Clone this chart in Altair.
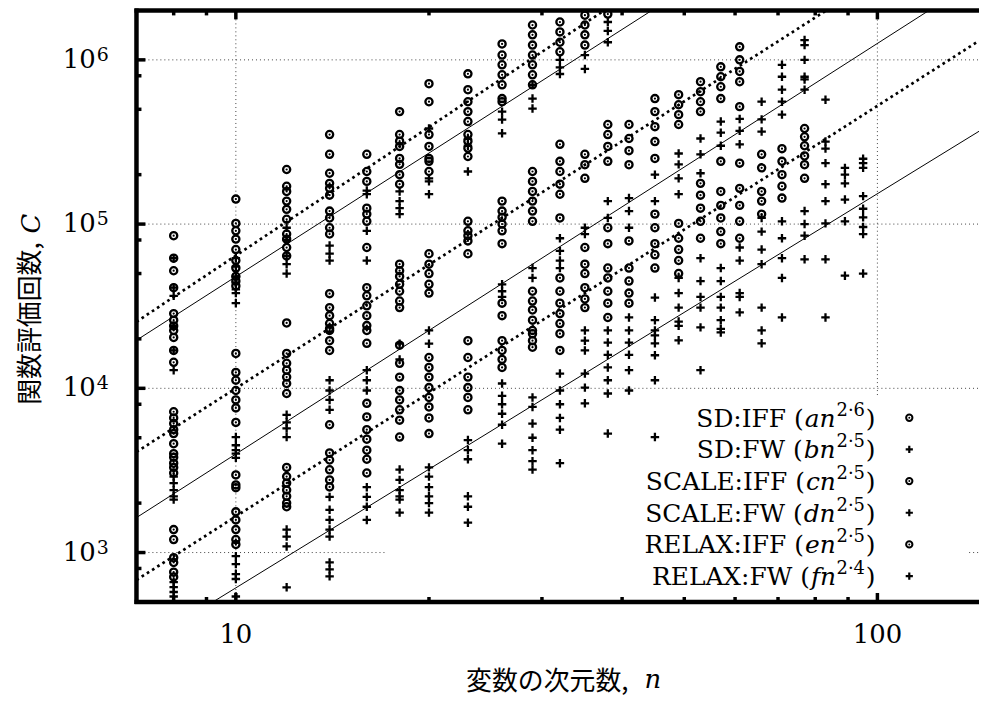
import altair as alt
import pandas as pd

# ---------------- data ----------------
SD_IFF = {
    8: [85000, 62000, 52000, 41000, 28500, 26000, 24000, 22500, 20400, 17000, 14400],
    10: [142000, 101000, 91000, 81000, 70000, 60000, 54000, 48000, 45000, 42000],
    12: [215000, 170000, 158000, 138000, 123000, 107000, 87000, 81000, 72000, 64000],
    14: [351000, 266000, 204000, 177000, 165000, 150000, 120000, 109000, 95000, 87000],
    16: [266000, 209000, 182000, 125000, 115000, 104000, 72000],
    18: [484000, 351000, 320000, 297000, 251000, 231000, 200000, 175000],
    20: [716000, 556000, 351000, 297000, 251000, 241000, 209000],
    23: [822000, 658000, 556000, 484000, 421000, 351000, 320000, 290000, 258000],
    26: [1250000, 1070000, 933000, 811000, 705000, 581000, 556000],
    29: [1630000, 1420000, 1230000, 1070000, 933000, 811000, 705000],
    32: [1700000, 1480000, 1280000, 1120000],
    35: [1870000, 1630000, 1420000, 1230000],
    38: [1900000],
}
SD_FW = {
    8: [62000, 41000, 36600, 24000, 17000, 12900],
    10: [62000, 55000, 48000, 44000, 40000, 38000, 33000],
    12: [95000, 80000, 64000, 57000, 50000],
    14: [74000, 66000, 60000],
    16: [160000, 152000, 91000, 60000],
    18: [158000, 138000, 125000, 115000],
    20: [382000, 190000, 182000, 152000],
    23: [330000, 300000, 209000],
    26: [484000, 433000, 357000],
    29: [705000, 581000, 505000],
    32: [1000000, 900000, 820000],
    35: [1070000, 880000],
    38: [1700000, 1500000, 1280000],
}
SCALE_IFF = {
    8: [7200, 6600, 6100, 5600, 5300, 4600, 4000, 3800, 3500, 3300, 3050],
    10: [16300, 12500, 11200, 9700, 8500, 7600, 6200],
    12: [25000, 16300, 14200, 12900, 11700, 10700, 9300],
    14: [37700, 31000, 27700, 24800, 23100, 22500, 19500, 17000],
    16: [41000, 36600, 31800, 27700, 24100, 22500, 18800],
    18: [57000, 52000, 48000, 43000, 39000, 34000, 31000],
    20: [66000, 57000, 50000, 43000, 38000],
    23: [104000, 91000, 85000, 79000, 66000],
    26: [138000, 120000, 110000, 100000, 91000, 76000],
    29: [209000, 182000, 158000, 138000, 120000, 104000],
    32: [306000, 241000, 209000, 175000, 152000, 109000],
    35: [266000, 230000, 190000],
    38: [404000, 351000, 297000, 241000],
    41: [404000, 332000, 280000, 230000],
    45: [581000, 484000, 392000, 318000, 251000],
    49: [614000, 533000, 464000, 404000],
    53: [736000, 640000, 556000, 484000],
    57: [907000, 789000, 686000, 581000],
    61: [1200000, 1000000, 850000, 736000, 519000],
}
SCALE_FW = {
    8: [2900, 2650, 2400, 2200, 2100],
    10: [5050, 4500, 4200, 4000, 3770],
    12: [6900, 6200, 5700, 5050],
    14: [11200, 9700, 8500, 7400],
    16: [12900, 11200, 9700],
    18: [18700, 15000],
    20: [22500, 18700],
    26: [43000, 39000, 36000],
    29: [54000, 47000],
    32: [82000, 68600, 60000, 54000],
    35: [95000, 87000],
    38: [138000, 109000],
    41: [144000, 120000, 95000],
    45: [200000, 138000],
    49: [269000, 231000, 190000, 152000],
    53: [332000, 266000, 204000],
    57: [421000, 360000, 300000],
    61: [437000, 370000, 306000],
    66: [556000, 434000, 366000],
    71: [933000, 789000, 658000, 556000, 464000],
    77: [1320000, 1230000, 1000000, 789000, 760000, 658000],
    83: [572000],
}
RELAX_IFF = {
    8: [1380, 1200, 930, 870, 760, 710],
    10: [2970, 2580, 2480, 1770, 1580, 1380, 1200, 1120],
    12: [3300, 2900, 2650, 2400, 2200, 2000, 1900],
    14: [6000, 4040, 3660, 3190, 2770, 2510],
    16: [8100, 6700, 5600, 4900, 4200, 3700, 3050],
    18: [18300, 14200, 11700, 9700, 8500, 7400, 6400, 5050],
    20: [15400, 13400, 11700, 10100, 8800, 7700, 6600, 5300],
    23: [19500, 15400, 11700, 10100, 8800, 7400],
    26: [33000, 27700, 19500, 17000, 15000, 13400],
    29: [39000, 34000, 30000, 26000, 22500, 21500, 19500, 17800],
    32: [47000, 39000, 33000, 28500, 24800, 21500, 17000],
    35: [72000, 57000, 50000, 41000, 35000, 31000],
    38: [95000, 76000, 54000, 47000, 39000, 33000, 27000],
    41: [79000, 54000, 45000, 38000, 33000],
    45: [115000, 95000, 76000, 65000, 54000],
    49: [101000, 82000, 70000, 60000, 50000],
    53: [177000, 150000, 125000, 104000, 82000],
    57: [241000, 158000, 130000, 109000, 90000, 76000],
    61: [235000, 165000, 130000, 104000, 82000],
    66: [266000, 220000, 158000, 138000, 115000],
    71: [288000, 241000, 200000, 170000, 144000],
    77: [382000, 340000, 300000, 260000, 230000, 190000],
}
RELAX_FW = {
    8: [660, 615, 575, 540, 505],
    10: [950, 850, 740, 690, 540],
    12: [1380, 1250, 1090, 614],
    14: [2180, 1820, 1580, 1380, 1250, 870, 790, 716],
    16: [2500, 2180, 1900, 1580],
    18: [3200, 2770, 2400, 2200, 2100, 1750],
    20: [3300, 2900, 2500, 2200, 2000, 1750],
    23: [4840, 4200, 3700, 2200, 1900, 1520],
    26: [10700, 9000, 8000, 7000, 6000, 4600],
    29: [8800, 7700, 6100, 5000, 4200, 3600, 3200],
    32: [12300, 9700, 8000, 6600, 5600, 3500],
    35: [22500, 19500, 17000, 12300, 10100, 8100],
    38: [22500, 19000, 16000, 13400, 11200, 9300, 5300],
    41: [27000, 22500, 19000, 16000, 12900, 9700],
    45: [35700, 26000, 22500, 21000, 18800, 15900, 11200, 5050],
    49: [47000, 38000, 31000, 25500, 24000, 19600],
    53: [62000, 45000, 36000, 31000, 23500, 12900],
    57: [54000, 45000, 36000, 31000, 26000, 23000, 21900],
    61: [72000, 60000, 38000, 36000, 29000],
    66: [109000, 90000, 70000, 57000, 31000, 22500, 18800],
    71: [104000, 82000, 62000, 47000, 27000],
    77: [120000, 100000, 85000, 61000],
    83: [318000, 288000, 235000, 175000, 138000, 101000, 61000, 27000],
    89: [220000, 200000, 177000, 141000, 104000, 48500],
    95: [250000, 235000, 220000, 148000, 124000, 110000, 96000, 87000, 50000],
}

SERIES = ["SD:IFF", "SD:FW", "SCALE:IFF", "SCALE:FW", "RELAX:IFF", "RELAX:FW"]
KIND = ["IFF", "FW", "IFF", "FW", "IFF", "FW"]
SERIES_DATA = [SD_IFF, SD_FW, SCALE_IFF, SCALE_FW, RELAX_IFF, RELAX_FW]
FIT_LOG10_COEF = [2.208, 2.18, 1.50, 1.10, 0.72, 0.385]
FIT_POWER = [2.6, 2.5, 2.5, 2.5, 2.5, 2.4]
FIT_LETTER = ["a", "b", "c", "d", "e", "f"]
FIT_EXP_TEXT = ["2·6", "2·5", "2·5", "2·5", "2·5", "2·4"]

X_DOMAIN = [7, 144]
Y_DOMAIN = [500, 2e6]
X_MAJOR = [10, 100]
X_MAJOR_LABELS = ["10", "100"]
X_MINOR = [8, 9, 20, 30, 40, 50, 60, 70, 80, 90]
Y_MAJOR = [1e3, 1e4, 1e5, 1e6]
Y_MAJOR_EXP = ["3", "4", "5", "6"]
Y_MINOR = [800, 2000, 5000, 8000, 20000, 50000, 80000, 200000, 500000, 800000]
# area hidden by the opaque key box (grid lines only)
KEY_BOX_N = [17.2, 139]
KEY_BOX_C_TOP = 9100

# ---------------- layout ----------------
W, H = 846, 594
SERIF = "DejaVu Serif"
SERIF_IT = "DejaVu Serif"
CJK = "Noto Sans CJK JP"

xs = alt.Scale(type="log", domain=X_DOMAIN, nice=False)
ys = alt.Scale(type="log", domain=Y_DOMAIN, nice=False)


def X(f):
    return alt.X(f, scale=xs, axis=None)


def Y(f):
    return alt.Y(f, scale=ys, axis=None)


rows = []
for s, k, d in zip(SERIES, KIND, SERIES_DATA):
    for n, vals in d.items():
        for v in vals:
            rows.append({"n": n, "C": v, "series": s, "kind": k})
pts = pd.DataFrame(rows)

fit_rows = []
for s, k, lc, p in zip(SERIES, KIND, FIT_LOG10_COEF, FIT_POWER):
    for n in X_DOMAIN:
        fit_rows.append({"series": s, "kind": k, "n": n, "C": (10 ** lc) * n ** p})
fits = pd.DataFrame(fit_rows)

# grid segments
hgrid = []
for c in Y_MAJOR:
    if c == 1e3:
        hgrid.append({"C": c, "n0": X_DOMAIN[0], "n1": KEY_BOX_N[0]})
        hgrid.append({"C": c, "n0": KEY_BOX_N[1], "n1": X_DOMAIN[1]})
    else:
        hgrid.append({"C": c, "n0": X_DOMAIN[0], "n1": X_DOMAIN[1]})
vgrid = []
for n in X_MAJOR:
    lo = KEY_BOX_C_TOP if n > KEY_BOX_N[0] and n < KEY_BOX_N[1] else Y_DOMAIN[0]
    vgrid.append({"n": n, "C0": lo, "C1": Y_DOMAIN[1]})

GRID_STYLE = dict(color="#444444", strokeWidth=1, strokeDash=[1, 3])
layers = []
layers.append(alt.Chart(pd.DataFrame(hgrid)).mark_rule(**GRID_STYLE).encode(
    x=X("n0:Q"), x2="n1:Q", y=Y("C:Q")))
layers.append(alt.Chart(pd.DataFrame(vgrid)).mark_rule(**GRID_STYLE).encode(
    x=X("n:Q"), y=Y("C0:Q"), y2="C1:Q"))

# fitted lines
layers.append(alt.Chart(fits[fits.kind == "IFF"]).mark_line(
    clip=True, color="black", strokeWidth=2.7, strokeDash=[2.7, 3.5]).encode(
    x=X("n:Q"), y=Y("C:Q"), detail="series:N"))
layers.append(alt.Chart(fits[fits.kind == "FW"]).mark_line(
    clip=True, color="black", strokeWidth=1).encode(
    x=X("n:Q"), y=Y("C:Q"), detail="series:N"))

PLUS = "M-1,0L1,0M0,-1L0,1"
iff = pts[pts.kind == "IFF"]
fw = pts[pts.kind == "FW"]
layers.append(alt.Chart(iff).mark_point(
    shape="circle", filled=False, size=52, strokeWidth=2.3, color="black", opacity=1, clip=True
).encode(x=X("n:Q"), y=Y("C:Q")))
layers.append(alt.Chart(iff).mark_point(
    shape="circle", filled=True, size=5, color="black", opacity=1, clip=True
).encode(x=X("n:Q"), y=Y("C:Q")))
layers.append(alt.Chart(fw).mark_point(
    shape=PLUS, filled=False, size=72, strokeWidth=2.3, color="black", opacity=1, clip=True
).encode(x=X("n:Q"), y=Y("C:Q")))

# frame
one = pd.DataFrame({"k": [0]})
FRAME = dict(color="black", strokeWidth=4.5)
layers.append(alt.Chart(one).mark_rule(**FRAME).encode(x=alt.value(-2), x2=alt.value(W + 6), y=alt.value(0)))
layers.append(alt.Chart(one).mark_rule(**FRAME).encode(x=alt.value(-2), x2=alt.value(W + 6), y=alt.value(H)))
layers.append(alt.Chart(one).mark_rule(**FRAME).encode(x=alt.value(0), y=alt.value(-2), y2=alt.value(H + 2)))

# inward ticks
TICK = dict(color="black", strokeWidth=3.5)
xmaj = pd.DataFrame({"n": X_MAJOR, "label": X_MAJOR_LABELS})
xmin = pd.DataFrame({"n": X_MINOR})
ymaj = pd.DataFrame({"C": Y_MAJOR, "exp": Y_MAJOR_EXP})
ymin = pd.DataFrame({"C": Y_MINOR})
layers.append(alt.Chart(xmaj).mark_rule(**TICK).encode(x=X("n:Q"), y=alt.value(0), y2=alt.value(9)))
layers.append(alt.Chart(xmaj).mark_rule(**TICK).encode(x=X("n:Q"), y=alt.value(H), y2=alt.value(H - 9)))
layers.append(alt.Chart(xmin).mark_rule(**TICK).encode(x=X("n:Q"), y=alt.value(0), y2=alt.value(5)))
layers.append(alt.Chart(xmin).mark_rule(**TICK).encode(x=X("n:Q"), y=alt.value(H), y2=alt.value(H - 5)))
layers.append(alt.Chart(ymaj).mark_rule(**TICK).encode(y=Y("C:Q"), x=alt.value(0), x2=alt.value(9)))
layers.append(alt.Chart(ymin).mark_rule(**TICK).encode(y=Y("C:Q"), x=alt.value(0), x2=alt.value(5)))

# tick labels
layers.append(alt.Chart(xmaj).mark_text(
    font=SERIF, fontSize=26, align="center", baseline="middle", color="black").encode(
    x=X("n:Q"), y=alt.value(H + 33), text="label:N"))
layers.append(alt.Chart(ymaj).mark_text(
    font=SERIF, fontSize=26, align="right", baseline="middle", color="black", text="10").encode(
    y=Y("C:Q"), x=alt.value(-41)))
layers.append(alt.Chart(ymaj).mark_text(
    font=SERIF, fontSize=19, align="left", baseline="alphabetic", dy=1, color="black").encode(
    y=Y("C:Q"), x=alt.value(-40), text="exp:N"))

# axis titles
layers.append(alt.Chart(one).mark_text(
    font=CJK, fontSize=26, align="left", baseline="middle", angle=270, color="black",
    text="関数評価回数,").encode(x=alt.value(-106), y=alt.value(396)))
layers.append(alt.Chart(one).mark_text(
    font=SERIF_IT, fontSize=26, fontStyle="italic", align="left", baseline="middle", angle=270,
    color="black", text="C").encode(x=alt.value(-105), y=alt.value(224)))
layers.append(alt.Chart(one).mark_text(
    font=CJK, fontSize=26, align="left", baseline="middle", color="black",
    text="変数の次元数,").encode(x=alt.value(331), y=alt.value(674)))
layers.append(alt.Chart(one).mark_text(
    font=SERIF_IT, fontSize=26, fontStyle="italic", align="left", baseline="middle",
    color="black", text="n").encode(x=alt.value(510), y=alt.value(672)))

# key
KEY_FS = 25
EXP_FS = 18
KEY_RIGHT = 742
KEY_SYM_X = 776
KEY_Y0 = 409
KEY_STEP = 31.8
IT_W = {"a": 0.6, "b": 0.64, "c": 0.55, "d": 0.64, "e": 0.59, "f": 0.35}
for i, (s, k, let, ex) in enumerate(zip(SERIES, KIND, FIT_LETTER, FIT_EXP_TEXT)):
    ysym = KEY_Y0 + KEY_STEP * i
    ybase = ysym + 9
    x_paren = KEY_RIGHT - 0.39 * KEY_FS
    x_exp = x_paren - 1.6 * EXP_FS - 0.5
    x_it = x_exp - (IT_W[let] + 0.64) * KEY_FS - 1.0
    base = dict(font=SERIF, color="black", baseline="alphabetic")
    layers.append(alt.Chart(one).mark_text(fontSize=KEY_FS, align="right", text=s + " (", **base)
                  .encode(x=alt.value(x_it - 1), y=alt.value(ybase)))
    layers.append(alt.Chart(one).mark_text(fontSize=KEY_FS, align="left", fontStyle="italic",
                                           text=let + "n", **base)
                  .encode(x=alt.value(x_it), y=alt.value(ybase)))
    layers.append(alt.Chart(one).mark_text(fontSize=EXP_FS, align="left", text=ex, **base)
                  .encode(x=alt.value(x_exp), y=alt.value(ybase - 11)))
    layers.append(alt.Chart(one).mark_text(fontSize=KEY_FS, align="left", text=")", **base)
                  .encode(x=alt.value(x_paren), y=alt.value(ybase)))
    if k == "IFF":
        layers.append(alt.Chart(one).mark_point(shape="circle", filled=False, size=40, strokeWidth=2,
                                                color="black", opacity=1)
                      .encode(x=alt.value(KEY_SYM_X), y=alt.value(ysym)))
        layers.append(alt.Chart(one).mark_point(shape="circle", filled=True, size=4, color="black", opacity=1)
                      .encode(x=alt.value(KEY_SYM_X), y=alt.value(ysym)))
    else:
        layers.append(alt.Chart(one).mark_point(shape=PLUS, filled=False, size=52, strokeWidth=2.2,
                                                color="black", opacity=1)
                      .encode(x=alt.value(KEY_SYM_X), y=alt.value(ysym)))

chart = alt.layer(*layers).properties(
    width=W, height=H,
    autosize=alt.AutoSizeParams(type="none"),
    padding={"left": 129, "top": 1, "right": 0, "bottom": 100},
    background="white",
).configure_view(stroke=None)

chart.save("out.html", embed_options={"renderer": "svg", "actions": False})
